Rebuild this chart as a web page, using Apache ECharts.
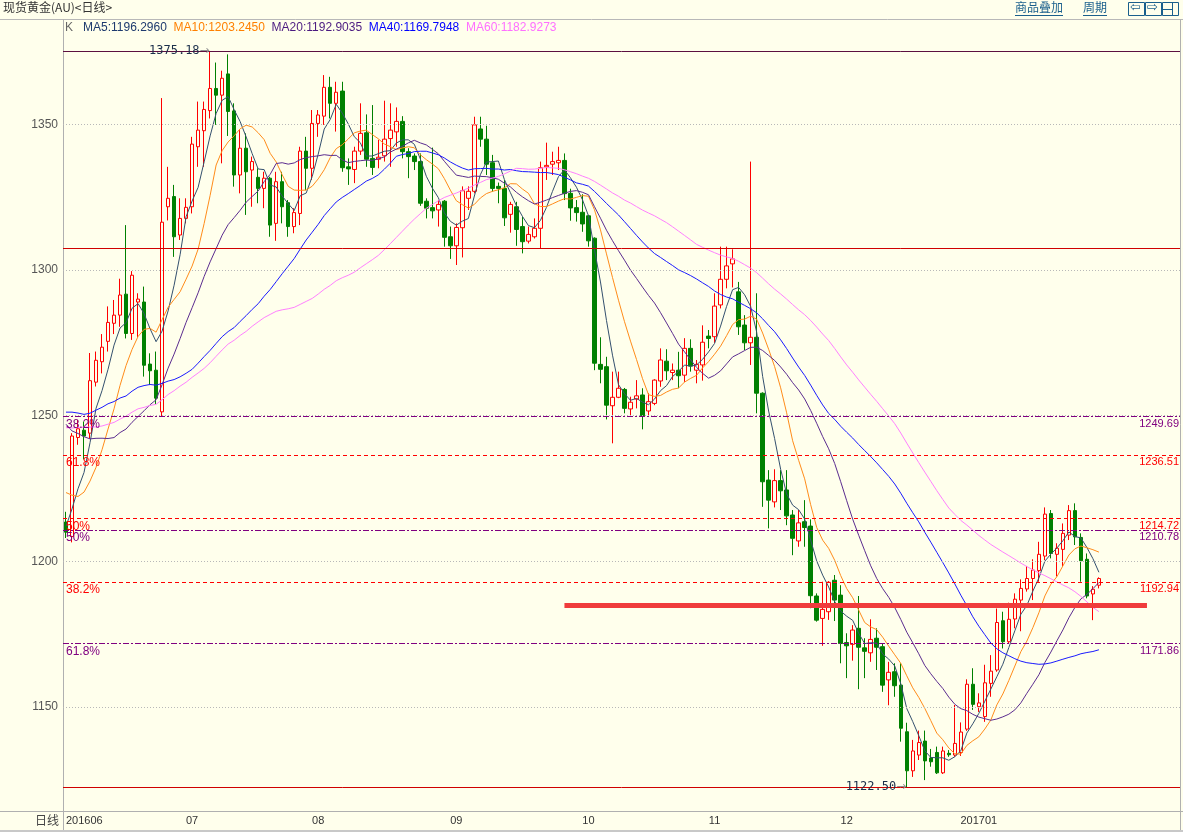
<!DOCTYPE html>
<html><head><meta charset="utf-8">
<script src="https://cdn.jsdelivr.net/npm/echarts@6/dist/echarts.min.js"></script>
<style>html,body{margin:0;padding:0;background:#ffffec;}#c{width:1183px;height:832px;}</style>
</head><body><div id="c"></div>
<script>
// ---- data ----
const monthLabels = ['201606','07','08','09','10','11','12','201701'];
const monthStartIdx = [0,21,42,65,87,108,130,152];
const yTicks = [1150,1200,1250,1300,1350];
const open = [1213.5,1208.5,1242.5,1245,1244,1261.5,1268.5,1275.5,1281.7,1284.5,1291.7,1278.2,1289,1289,1267.7,1265.6,1251.3,1321.7,1325.2,1312,1317.7,1321.7,1342.3,1347.8,1354.7,1362.3,1360,1367.3,1354.6,1332.6,1341.8,1334.3,1331.8,1328,1331.5,1316,1330.3,1323.1,1314.9,1319.4,1340.8,1334.9,1350.3,1352.8,1362.7,1357.2,1361.4,1335.4,1334.5,1340.8,1347.1,1338.3,1338,1339.2,1345.1,1347.4,1351,1340.6,1339.1,1337.2,1323.6,1321.4,1320.6,1323.6,1311.4,1308.3,1314.5,1324.6,1327,1348.4,1344.9,1336.8,1328.7,1328,1319.1,1321.7,1314.9,1309.9,1311.4,1314.3,1335.4,1336.3,1336.8,1337.6,1326.3,1321.4,1319.8,1318.6,1310.9,1267.6,1266.8,1253.4,1256.3,1259,1252.3,1255.7,1257.1,1251.6,1254.2,1261.9,1268.7,1264.8,1265.6,1263.9,1273.1,1265.6,1267.4,1277.3,1277.1,1288,1296.8,1302.1,1292.5,1281.1,1275,1276.9,1257.7,1227.9,1220.4,1227.7,1224.5,1215.9,1207,1213.6,1212.1,1188.1,1180.4,1182.7,1193.5,1188.4,1172.1,1171.5,1177,1170.3,1168.6,1173.6,1170.7,1159.3,1162.1,1157.5,1141.5,1128.1,1133.5,1138.3,1132.5,1134.4,1127.4,1134.1,1133.5,1134.4,1142.4,1157.8,1150.1,1146.7,1158.1,1162.7,1179.6,1172.4,1180.2,1186.7,1190.5,1194.1,1196.8,1201.8,1216.4,1202.4,1204.1,1209,1217.4,1208.2,1200.7,1188.8,1191.8];
const close = [1210,1243,1245.5,1243,1262,1269,1273.5,1282,1284.5,1291.4,1278.2,1298.2,1290,1267.3,1265.4,1256,1316.4,1324.6,1311.4,1317.7,1321.5,1343.2,1348,1355.1,1362.3,1360,1365.8,1354.4,1332.6,1341.8,1333.7,1337.2,1328,1331.5,1315.4,1330.3,1321.7,1314.9,1319.7,1340.8,1334.9,1350.3,1353.2,1362.7,1357.2,1361,1335.1,1334.7,1340.8,1346.9,1338,1335.2,1338.7,1344.9,1348,1351,1340.6,1338.9,1337.2,1322.9,1321.2,1320.3,1322.5,1311.2,1308.3,1314.6,1327.2,1327,1349.8,1344.9,1336.3,1328,1328,1317.9,1322.5,1313.9,1309.7,1312.2,1314.3,1335.1,1335.9,1337.2,1337.6,1326.2,1321.3,1319.7,1315.8,1310,1268,1265.9,1253.6,1256.3,1259.4,1252.5,1254.6,1256.8,1250,1254.8,1262.2,1269.1,1265.4,1265.6,1263.7,1273.1,1267,1267.6,1275.2,1276.5,1287.6,1296.8,1301.4,1303.8,1280.5,1275,1276.9,1257.7,1227.3,1221,1227.7,1224.2,1215.6,1207.9,1213.2,1211.6,1188.2,1179.8,1183.5,1192.8,1186.7,1171.8,1171,1176.4,1170.5,1169.1,1173.2,1170.5,1157.5,1161.9,1157.3,1142.7,1128.1,1134.9,1137.8,1131.5,1131.2,1127.4,1134.9,1133.6,1137.5,1141.4,1157.8,1150.9,1151.4,1158.3,1162.3,1179,1172.4,1180.1,1187,1190.7,1194.1,1197,1202.4,1216.2,1202.7,1204.5,1209.6,1217.4,1208.4,1200.2,1188.1,1190.4,1194.1];
const low = [1208,1206.5,1240,1235,1242,1260,1264.5,1272,1278,1280.5,1276.5,1276,1277,1263.4,1260.5,1254,1249.6,1317,1304.5,1310.3,1316,1319.4,1335.4,1335.4,1352,1349.8,1336.6,1346,1328.6,1326.3,1318.9,1321.7,1322.9,1321.2,1311.4,1310,1316,1311.4,1312.6,1315.4,1327.4,1330.9,1345.7,1349.8,1352,1347.5,1333.7,1329.2,1329.8,1339.5,1335.4,1332.6,1334.9,1337.2,1335.4,1342.3,1338.3,1331.5,1334.3,1322,1317.7,1317.7,1314.9,1308,1303.8,1301.7,1304.3,1320.6,1326.3,1342.3,1332.6,1326.9,1322.9,1315.1,1312.8,1308.3,1305.7,1309.1,1310.8,1307.4,1330.9,1332.6,1334.3,1324,1316.9,1316.6,1313.1,1308,1265.6,1261.1,1248.7,1240.5,1256,1250.8,1249.6,1252.5,1245.3,1249.6,1253.6,1259.9,1262.2,1262.2,1259.4,1261.6,1265.1,1261.1,1262,1273.1,1275,1286.8,1293.7,1294,1277.7,1272.5,1267.4,1250.8,1218.7,1211.3,1218.5,1217.6,1212.4,1202.1,1205,1205,1183.9,1179.3,1171,1179.9,1179.5,1165,1159.9,1165.9,1156.1,1159.9,1165.5,1162.7,1155.2,1150.6,1153.5,1138.1,1122.5,1126,1131.8,1124.9,1129.5,1127,1127,1132.9,1132.9,1133.2,1141.8,1149,1148.3,1144.9,1153.5,1162.1,1170.1,1171.8,1177,1176,1189.6,1186.7,1193,1200.4,1201,1194.8,1198.2,1207.3,1205.6,1193,1187.3,1179.8,1190.7];
const high = [1217,1244,1248.5,1248,1271.5,1272,1278,1287.5,1289.7,1297,1315.4,1299.6,1292,1294.3,1271.4,1272,1359,1335.4,1329.2,1324.6,1324.6,1345.7,1357.8,1357.8,1375.18,1371.2,1368.4,1374,1357.2,1348,1346.9,1338.9,1334.9,1333.7,1332,1333.7,1333.7,1324,1321.2,1342.3,1345.7,1354.9,1354.9,1366.9,1366.3,1364.6,1364.6,1338.3,1342.3,1357.2,1353.4,1356.6,1344.7,1358.1,1357.2,1355.8,1352.8,1341.8,1340,1340,1324.6,1342,1324,1324,1314.9,1316,1328.7,1328.7,1352.6,1352.6,1349.5,1339.5,1330,1330.9,1323.4,1323.4,1318.3,1314.9,1317.7,1337.2,1343.7,1340.6,1342.3,1340,1327.9,1324,1326,1318.9,1311.2,1276.9,1270.2,1265.1,1265.1,1259.5,1256.5,1262.2,1259.4,1257.7,1262.5,1273.1,1272.8,1267.9,1271.9,1276.6,1276.2,1269.1,1281,1279.4,1292,1308,1308,1307.1,1295.9,1284.5,1337.2,1292,1258,1231.3,1231.6,1231.3,1231.3,1217.6,1217.6,1221,1214.4,1189,1193,1193.2,1195.3,1191.8,1175.3,1178.1,1188.1,1173.6,1180.1,1177,1171.8,1165.5,1165,1165,1144.6,1138.7,1141.9,1141.9,1135.6,1136.4,1136.4,1135.2,1150.7,1144.7,1159.5,1163.3,1154.7,1164.5,1167.8,1183.8,1182.7,1185.8,1189,1193.8,1198.4,1200.7,1206.7,1218.5,1217.6,1206.2,1213,1219.3,1219.9,1209.6,1202.7,1191.5,1194.5];
// estimated closes of the 59 sessions before the first candle (feed the moving averages at the left edge)
const priorCloses = [1250,1237,1232,1262,1265,1255,1245,1248,1222,1218,1217,1220,1238,1227,1232,
  1221,1218,1232,1225,1240,1243,1258,1261,1246,1227,1235,1233,1254,1243,1250,1232,1237,1244,1250,1266,1291,
  1294,1290,1280,1273,1289,1263,1265,1277,1265,1273,1284,1278,1257,1254,1252,1250,1228,1224,1222,1213,1211,1215,
  1211];
const maPeriods = [5,10,20,40,60];
const maShown = ['1196.2960','1203.2450','1192.9035','1169.7948','1182.9273'];
const maColors = ['#34506e','#ff8c1a','#5b2c8f','#1a1aff','#ff80ff'];
const maTextColors = ['#1e3a6e','#ff8000','#4b1a80','#0000ff','#ff70ff'];
const redFib = [[1236.51,'61.8%'],[1214.72,'50%'],[1192.94,'38.2%']];
const purpleFib = [[1249.69,'38.2%'],[1210.78,'50%'],[1171.86,'61.8%']];
const solidLevels = [[1375.18,'#5c1040'],[1307.5,'#d00000'],[1122.5,'#d00000']];
const supportLevel = 1185;
const supportRange = [83,180];
const slotCount = 186;

// ---- build ----
const cats = []; for (let i=0;i<slotCount;i++) cats.push(String(i));
const kData = open.map((o,i)=>[o, close[i], low[i], high[i]]);
function ma(n){
  const all = priorCloses.concat(close), off = priorCloses.length;
  return close.map((_,i)=>{ const j=i+off; if (j-n+1<0) return '-'; let s=0; for(let k=j-n+1;k<=j;k++) s+=all[k]; return +(s/n).toFixed(3); });
}
const BG = '#ffffec';
const numFont = '"Liberation Sans", Arial, sans-serif';
const fibLines = [];
function addFib(list, color, dash){
  list.forEach(([v,lab])=>{
    const ls = {color, type:dash, width:1};
    fibLines.push({yAxis:v, lineStyle:ls, label:{show:true, position:'insideStartBottom', formatter:lab, color, fontSize:12, fontFamily:numFont, distance:[3,2]}});
    fibLines.push({yAxis:v, lineStyle:ls, label:{show:true, position:'insideEndBottom', formatter:v.toFixed(2), color, fontSize:11, fontFamily:numFont, distance:[1,2]}});
  });
}
addFib(redFib,'#ff0000',[4,3]);
addFib(purpleFib,'#800080',[6,2,2,2]);
solidLevels.forEach(([v,c])=>fibLines.push({yAxis:v, lineStyle:{color:c,type:'solid',width:1}, label:{show:false}}));
fibLines.push([{coord:[String(supportRange[0]),supportLevel]},{coord:[String(supportRange[1]),supportLevel], lineStyle:{color:'#f03c3c',width:5,type:'solid'}}]);

const series = [
  {type:'line', data:[], z:1, silent:true,
   markLine:{silent:true, symbol:['none','none'], animation:false, label:{show:false},
     lineStyle:{color:'#b8b8b8', type:[1,2], width:1},
     data: yTicks.map(v=>({yAxis:v}))}},
  {type:'candlestick', data:kData, barWidth:4, z:2,
   itemStyle:{color:BG, color0:'#008000', borderColor:'#ff0000', borderColor0:'#008000', borderWidth:1},
   markPoint:{symbol:'circle', symbolSize:1, itemStyle:{color:'rgba(0,0,0,0)'}, animation:false,
     label:{show:true, position:'left', distance:0,
       formatter:p=>'{v|'+Number(p.value).toFixed(2)+'}{a|→}',
       rich:{v:{fontFamily:'"DejaVu Sans Mono", monospace', fontSize:12, color:'#1a2e4a'}, a:{fontSize:12, color:'#909090', fontFamily:'"DejaVu Sans"'}}},
     data:[{type:'max', valueDim:'highest'},{type:'min', valueDim:'lowest'}]}}
];
maPeriods.forEach((n,k)=>series.push({type:'line', name:'MA'+n, data:ma(n), showSymbol:false, symbol:'none', smooth:false, z:3+k*0.01,
  lineStyle:{color:maColors[k], width:1}, silent:true}));
series.push({type:'line', data:[], z:6, silent:true,
  markLine:{silent:true, symbol:['none','none'], animation:false, data:fibLines}});

// header legend text
let rich = {k:{fill:'#666', fontSize:12, fontFamily:numFont}};
let txt = '{k|K}   ';
maPeriods.forEach((n,k)=>{ rich['m'+k]={fill:maTextColors[k], fontSize:12, fontFamily:numFont}; txt += '{m'+k+'|MA'+n+':'+maShown[k]+'}  '; });

const linkColor = '#1a5f8c';
const option = {
  backgroundColor: BG,
  animation:false,
  grid:{left:63, right:3, top:20, bottom:21, containLabel:false},
  xAxis:{type:'category', data:cats, boundaryGap:true,
    axisLine:{show:true, lineStyle:{color:'#b0b0b0'}}, axisTick:{show:false}, splitLine:{show:false},
    axisLabel:{color:'#333', fontSize:11, fontFamily:numFont, margin:4, alignMinLabel:'left',
      interval:(idx)=>monthStartIdx.indexOf(idx)>=0,
      formatter:(v,idx)=>{const m=monthStartIdx.indexOf(+v); return m>=0?monthLabels[m]:'';}}},
  yAxis:{type:'value', min:1114.3, max:1385.8, position:'left',
    axisLine:{show:true, lineStyle:{color:'#b0b0b0'}}, axisTick:{show:false}, splitLine:{show:false},
    axisLabel:{customValues:yTicks, formatter:v=>String(v), color:'#555', fontSize:12, fontFamily:numFont, margin:5}},
  series,
  graphic:[
    {type:'text', x:3, y:1, style:{text:'现货黄金(AU)<日线>', font:'12px "Noto Sans CJK SC"', fill:'#333'}},
    {type:'line', shape:{x1:0,y1:19.5,x2:1183,y2:19.5}, style:{stroke:'#b8b8b8', lineWidth:1}},
    {type:'text', x:65, y:22, style:{text:txt, rich, font:'12px '+numFont}},
    {type:'text', x:1015, y:1, style:{text:'商品叠加', font:'12px "Noto Sans CJK SC"', fill:linkColor}},
    {type:'line', shape:{x1:1015,y1:15.5,x2:1063,y2:15.5}, style:{stroke:linkColor, lineWidth:1}},
    {type:'text', x:1083, y:1, style:{text:'周期', font:'12px "Noto Sans CJK SC"', fill:linkColor}},
    {type:'line', shape:{x1:1083,y1:15.5,x2:1107,y2:15.5}, style:{stroke:linkColor, lineWidth:1}},
    {type:'rect', shape:{x:1128.5,y:2.5,width:16,height:13}, style:{fill:'none', stroke:linkColor, lineWidth:1}},
    {type:'text', x:1130, y:1, style:{text:'⇦', font:'13px "DejaVu Sans"', fill:linkColor}},
    {type:'rect', shape:{x:1145.5,y:2.5,width:16,height:13}, style:{fill:'none', stroke:linkColor, lineWidth:1}},
    {type:'text', x:1147, y:1, style:{text:'⇨', font:'13px "DejaVu Sans"', fill:linkColor}},
    {type:'rect', shape:{x:1162.5,y:2.5,width:16,height:13}, style:{fill:'none', stroke:linkColor, lineWidth:1}},
    {type:'line', shape:{x1:1172.5,y1:2.5,x2:1172.5,y2:15.5}, style:{stroke:linkColor, lineWidth:1}},
    {type:'line', shape:{x1:1162.5,y1:9.5,x2:1172.5,y2:9.5}, style:{stroke:linkColor, lineWidth:1}},
    {type:'line', shape:{x1:63.5,y1:19.5,x2:63.5,y2:830}, style:{stroke:'#b0b0b0', lineWidth:1}},
    {type:'line', shape:{x1:1180.5,y1:19.5,x2:1180.5,y2:830}, style:{stroke:'#b0b0b0', lineWidth:1}},
    {type:'line', shape:{x1:0,y1:811.5,x2:1183,y2:811.5}, style:{stroke:'#b0b0b0', lineWidth:1}},
    {type:'rect', shape:{x:0,y:830,width:1183,height:2}, style:{fill:'#c8c8c8'}},
    {type:'text', x:35, y:814, style:{text:'日线', font:'12px "Noto Sans CJK SC"', fill:'#444'}}
  ]
};
const chart = echarts.init(document.getElementById('c'), null, {renderer:'canvas', width:1183, height:832});
chart.setOption(option);
</script></body></html>
